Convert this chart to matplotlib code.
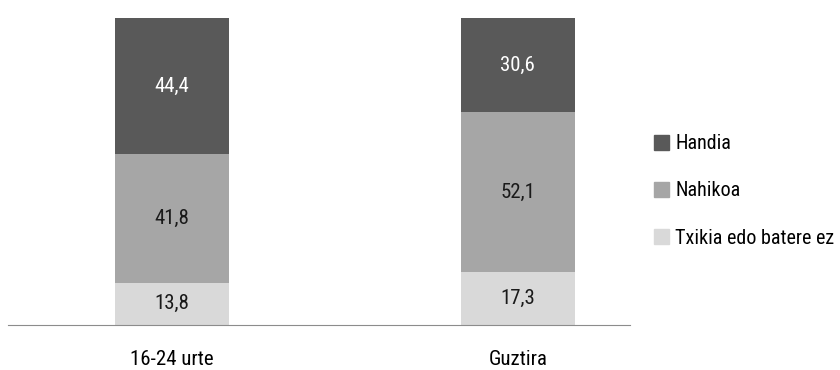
import matplotlib
matplotlib.use("Agg")
import matplotlib.pyplot as plt
from matplotlib.patches import Patch

plt.rcParams['font.family'] = ['Roboto Condensed', 'DejaVu Sans']

categories = ["16-24 urte", "Guztira"]
series_names = ["Txikia edo batere ez", "Nahikoa", "Handia"]
txikia = [13.8, 17.3]
nahikoa = [41.8, 52.1]
handia = [44.4, 30.6]
colors = ["#d9d9d9", "#a6a6a6", "#595959"]
text_colors = ["#1a1a1a", "#1a1a1a", "#ffffff"]

fig = plt.figure(figsize=(8.4, 3.7), dpi=100)
ax = fig.add_axes([8/840, 1-325/370, (630-8)/840, (325-18)/370])

x = [0, 1]
bottom = [0, 0]
for vals, c, tc, name in zip([txikia, nahikoa, handia], colors, text_colors, series_names):
    ax.bar(x, vals, width=0.33, bottom=bottom, color=c, label=name)
    for xi, v, b in zip(x, vals, bottom):
        ax.text(xi, b + v/2, f"{v:.1f}".replace(".", ","), ha="center", va="center",
                fontsize=15, color=tc)
    bottom = [b + v for b, v in zip(bottom, vals)]

ax.set_xlim(-0.474, 1.324)
ax.set_ylim(0, 100)
for s in ["top", "right", "left"]:
    ax.spines[s].set_visible(False)
ax.spines["bottom"].set_color("#8c8c8c")
ax.set_yticks([])
ax.set_xticks(x)
ax.set_xticklabels(categories, fontsize=15)
ax.tick_params(axis="x", length=0, pad=18)

leg_handles = [Patch(color=c) for c in colors[::-1]]
fig.legend(leg_handles, series_names[::-1], loc="center left",
           bbox_to_anchor=(636/840, 1-191/370), frameon=False, fontsize=14.5,
           handlelength=0.75, handleheight=0.75, handletextpad=0.3, labelspacing=1.4)

fig.savefig("out.png", dpi=100)
